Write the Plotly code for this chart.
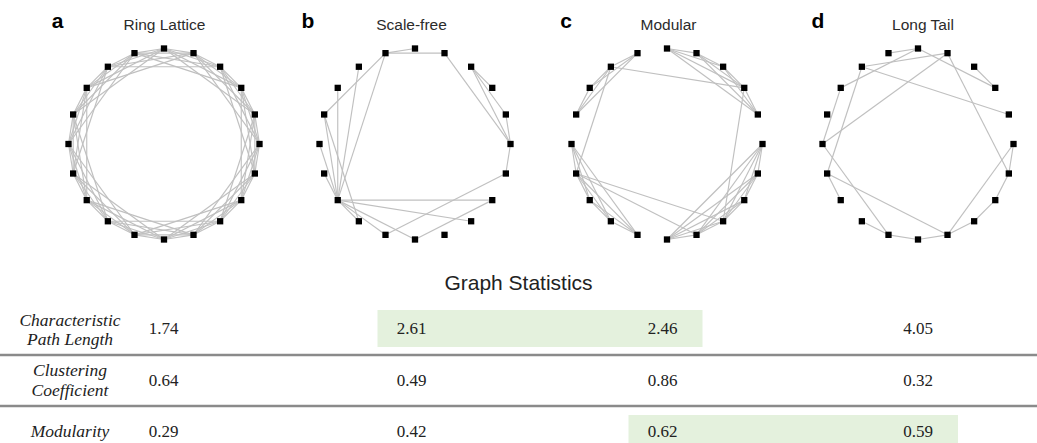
import math
import plotly.graph_objects as go

# ---------------- data ----------------
N_NODES = 20
PANEL_LETTERS = ["a", "b", "c", "d"]
PANEL_TITLES = ["Ring Lattice", "Scale-free", "Modular", "Long Tail"]

# ring lattice: every node linked to its neighbours at these offsets
RING_OFFSETS = [1, 2, 3, 4]

SCALE_FREE_EDGES = [(6, 5), (6, 4), (6, 9), (6, 12), (7, 12), (8, 12), (9, 12), (9, 13),
                    (10, 12), (11, 12), (12, 13), (12, 14), (12, 15), (12, 17), (12, 18),
                    (14, 19), (15, 18), (19, 0), (0, 4), (0, 3), (0, 1), (3, 2), (3, 1)]

MODULES = [[1, 2, 3, 4, 5], [6, 7, 8, 9], [10, 11, 12, 13, 14], [15, 16, 17, 18, 19, 0]]
MODULAR_BRIDGES = [(2, 7), (2, 17), (7, 11), (11, 17), (11, 16)]

LONG_TAIL_EDGES = [(6, 5), (5, 2), (3, 2), (8, 5), (7, 4), (7, 1), (4, 10), (4, 19), (8, 10),
                   (7, 11), (10, 14), (11, 12), (11, 16), (13, 14), (14, 15), (15, 16),
                   (16, 17), (17, 18), (18, 19), (19, 0), (0, 16)]

STAT_TITLE = "Graph Statistics"
STAT_NAMES = [["Characteristic", "Path Length"], ["Clustering", "Coefficient"], ["Modularity"]]
PATH_LENGTH = [1.74, 2.61, 2.46, 4.05]
CLUSTERING = [0.64, 0.49, 0.86, 0.32]
MODULARITY = [0.29, 0.42, 0.62, 0.59]
HIGHLIGHTS = {0: [1, 2], 2: [2, 3]}  # row index -> highlighted graph columns

# ---------------- layout constants ----------------
W, H = 1037, 443
CENTERS_X = [164, 415, 667, 918]
CY = 144
R = 95.5
TITLE_X = [164.5, 411.5, 668.5, 923]
TITLE_Y = 26.5
LETTER_X = [57.5, 308, 566, 818]
LETTER_Y = 23
VALUE_X = [163.5, 411.5, 662.5, 918]
ROW_Y = [330, 381.5, 433]
LABEL_Y = [[321.5, 341], [371.5, 391.5], [433]]
LABEL_X = 70
SEP_Y = [355, 406]
HL_BOX = [(310, 347), None, (415, 450)]
HL_PAD_L, HL_PAD_R = 34, 40

EDGE_COLOR = "#c0c0c0"
GREEN = "#e4f1dd"


def ring_edges():
    edges = []
    for i in range(N_NODES):
        for d in RING_OFFSETS:
            edges.append((i, (i + d) % N_NODES))
    return edges


def modular_edges():
    edges = []
    for m in MODULES:
        for a in range(len(m)):
            for b in range(a + 1, len(m)):
                edges.append((m[a], m[b]))
    return edges + MODULAR_BRIDGES


GRAPHS = [ring_edges(), SCALE_FREE_EDGES, modular_edges(), LONG_TAIL_EDGES]


def node_xy(cx, k):
    ang = math.radians(360.0 * k / N_NODES)
    return cx + R * math.cos(ang), CY - R * math.sin(ang)


fig = go.Figure()

for g, edges in enumerate(GRAPHS):
    cx = CENTERS_X[g]
    ex, ey = [], []
    for a, b in edges:
        xa, ya = node_xy(cx, a)
        xb, yb = node_xy(cx, b)
        ex += [xa, xb, None]
        ey += [ya, yb, None]
    fig.add_trace(go.Scatter(x=ex, y=ey, mode="lines",
                             line=dict(color=EDGE_COLOR, width=1.15),
                             hoverinfo="skip", showlegend=False))
    nx, ny = zip(*[node_xy(cx, k) for k in range(N_NODES)])
    fig.add_trace(go.Scatter(x=list(nx), y=list(ny), mode="markers",
                             marker=dict(symbol="square", size=6.3, color="black",
                                         line=dict(width=0)),
                             hoverinfo="skip", showlegend=False))

# titles and panel letters
fig.add_trace(go.Scatter(x=TITLE_X, y=[TITLE_Y] * 4, mode="text", text=PANEL_TITLES,
                         textposition="middle center",
                         textfont=dict(family="Liberation Sans", size=15.5, color="#2b2b2b"),
                         hoverinfo="skip", showlegend=False))
fig.add_trace(go.Scatter(x=LETTER_X, y=[LETTER_Y] * 4, mode="text", text=PANEL_LETTERS,
                         textposition="middle center",
                         textfont=dict(family="Liberation Sans", size=21, color="#000000",
                                       weight="bold"),
                         hoverinfo="skip", showlegend=False))

# statistics title
fig.add_trace(go.Scatter(x=[W / 2], y=[284.5], mode="text", text=[STAT_TITLE],
                         textposition="middle center",
                         textfont=dict(family="Liberation Sans", size=21, color="#222222"),
                         hoverinfo="skip", showlegend=False))

# row labels
lx, ly, lt = [], [], []
for r, lines in enumerate(STAT_NAMES):
    for j, t in enumerate(lines):
        lx.append(LABEL_X)
        ly.append(LABEL_Y[r][j])
        lt.append(t)
fig.add_trace(go.Scatter(x=lx, y=ly, mode="text", text=lt, textposition="middle center",
                         textfont=dict(family="Liberation Serif", size=17.5, color="#222222",
                                       style="italic"),
                         hoverinfo="skip", showlegend=False))

# values
vx, vy, vt = [], [], []
for r, row in enumerate([PATH_LENGTH, CLUSTERING, MODULARITY]):
    for c, v in enumerate(row):
        vx.append(VALUE_X[c])
        vy.append(ROW_Y[r])
        vt.append(f"{v:.2f}")
fig.add_trace(go.Scatter(x=vx, y=vy, mode="text", text=vt, textposition="middle center",
                         textfont=dict(family="Liberation Serif", size=17, color="#222222"),
                         hoverinfo="skip", showlegend=False))

shapes = []
for r, cols in HIGHLIGHTS.items():
    y0, y1 = HL_BOX[r]
    shapes.append(dict(type="rect", xref="x", yref="y", layer="below",
                       x0=VALUE_X[cols[0]] - HL_PAD_L, x1=VALUE_X[cols[-1]] + HL_PAD_R,
                       y0=y0, y1=y1, fillcolor=GREEN, line=dict(width=0)))
for y in SEP_Y:
    shapes.append(dict(type="line", xref="x", yref="y", x0=0, x1=W, y0=y, y1=y,
                       line=dict(color="#8a8a8a", width=2.5), layer="below"))

fig.update_layout(
    width=W, height=H, margin=dict(l=0, r=0, t=0, b=0),
    paper_bgcolor="white", plot_bgcolor="white",
    xaxis=dict(range=[0, W], visible=False, fixedrange=True),
    yaxis=dict(range=[H, 0], visible=False, fixedrange=True),
    shapes=shapes, showlegend=False,
)

fig.write_html("out.html")
